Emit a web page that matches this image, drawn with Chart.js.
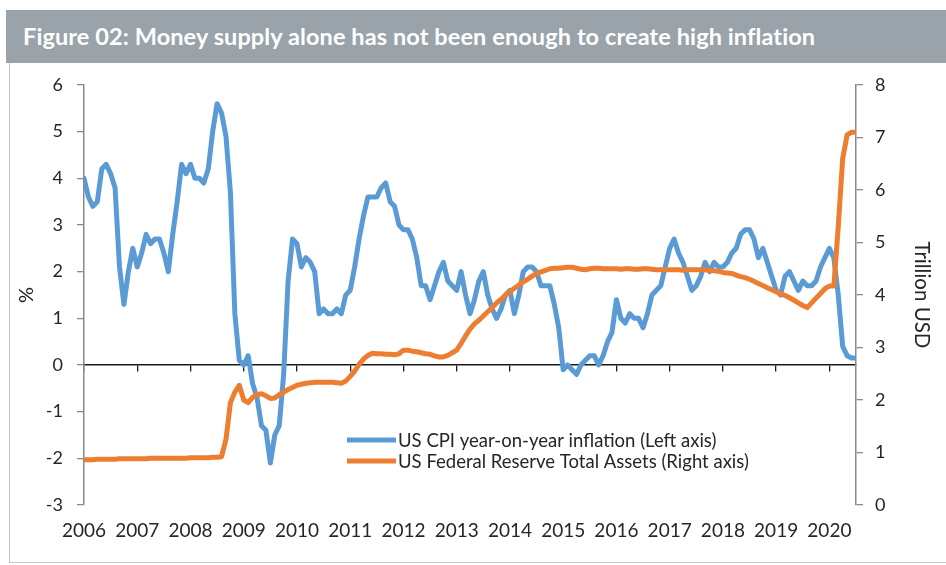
<!DOCTYPE html>
<html><head><meta charset="utf-8">
<script src="https://cdn.jsdelivr.net/npm/chart.js@4.4.1/dist/chart.umd.min.js"></script>
<style>
html,body{margin:0;padding:0;background:#fff;}
#wrap{position:relative;width:946px;height:565px;overflow:hidden;font-family:Lato,sans-serif;}
#banner{position:absolute;left:6px;top:10px;width:940px;height:53px;background:#9aa3aa;color:#fff;font-weight:bold;font-size:23.5px;line-height:53px;padding-left:17px;box-sizing:border-box;white-space:nowrap;letter-spacing:0.1px;}
#frame{position:absolute;left:9px;top:63px;width:937px;height:500px;border-left:1px solid #c4c4c4;border-bottom:1px solid #c4c4c4;box-sizing:border-box;}
#c{position:absolute;left:0;top:0;}
</style></head>
<body>
<div id="wrap">
<div id="frame"></div>
<canvas id="c" width="946" height="565"></canvas>
<div id="banner">Figure 02: Money supply alone has not been enough to create high inflation</div>
</div>
<script>
// ---- data (monthly, Jan 2006 - Jul 2020) ----
const startYear = 2006;
const years = [2006,2007,2008,2009,2010,2011,2012,2013,2014,2015,2016,2017,2018,2019,2020];
const cpiLabel = 'US CPI year-on-year inflation (Left axis)';
const fedLabel = 'US Federal Reserve Total Assets (Right axis)';
// US CPI year-on-year inflation, %
const cpiYoY = [
  4.0, 3.6, 3.4, 3.5, 4.2, 4.3, 4.1, 3.8, 2.1, 1.3, 2.0, 2.5,
  2.1, 2.4, 2.8, 2.6, 2.7, 2.7, 2.4, 2.0, 2.8, 3.5, 4.3, 4.1,
  4.3, 4.0, 4.0, 3.9, 4.2, 5.0, 5.6, 5.4, 4.9, 3.7, 1.1, 0.1,
  0.0, 0.2, -0.4, -0.7, -1.3, -1.4, -2.1, -1.5, -1.3, -0.2, 1.8, 2.7,
  2.6, 2.1, 2.3, 2.2, 2.0, 1.1, 1.2, 1.1, 1.1, 1.2, 1.1, 1.5,
  1.6, 2.1, 2.7, 3.2, 3.6, 3.6, 3.6, 3.8, 3.9, 3.5, 3.4, 3.0,
  2.9, 2.9, 2.7, 2.3, 1.7, 1.7, 1.4, 1.7, 2.0, 2.2, 1.8, 1.7,
  1.6, 2.0, 1.5, 1.1, 1.4, 1.8, 2.0, 1.5, 1.2, 1.0, 1.2, 1.5,
  1.6, 1.1, 1.5, 2.0, 2.1, 2.1, 2.0, 1.7, 1.7, 1.7, 1.3, 0.8,
  -0.1, 0.0, -0.1, -0.2, 0.0, 0.1, 0.2, 0.2, 0.0, 0.2, 0.5, 0.7,
  1.4, 1.0, 0.9, 1.1, 1.0, 1.0, 0.8, 1.1, 1.5, 1.6, 1.7, 2.1,
  2.5, 2.7, 2.4, 2.2, 1.9, 1.6, 1.7, 1.9, 2.2, 2.0, 2.2, 2.1,
  2.1, 2.2, 2.4, 2.5, 2.8, 2.9, 2.9, 2.7, 2.3, 2.5, 2.2, 1.9,
  1.6, 1.5, 1.9, 2.0, 1.8, 1.6, 1.8, 1.7, 1.7, 1.8, 2.1, 2.3,
  2.5, 2.3, 1.5, 0.4, 0.2, 0.15, 0.15
];
// US Federal Reserve total assets, trillion USD
const fedAssets = [
  0.86, 0.86, 0.86, 0.87, 0.87, 0.87, 0.87, 0.87, 0.88, 0.88, 0.88, 0.88,
  0.88, 0.88, 0.88, 0.89, 0.89, 0.89, 0.89, 0.89, 0.89, 0.89, 0.89, 0.89,
  0.90, 0.90, 0.90, 0.90, 0.90, 0.91, 0.91, 0.92, 1.25, 1.95, 2.15, 2.28,
  2.00, 1.95, 2.05, 2.10, 2.12, 2.08, 2.03, 2.04, 2.10, 2.15, 2.20, 2.24,
  2.28, 2.30, 2.32, 2.33, 2.34, 2.34, 2.34, 2.34, 2.34, 2.33, 2.32, 2.36,
  2.45, 2.55, 2.68, 2.78, 2.85, 2.89, 2.88, 2.88, 2.87, 2.87, 2.86, 2.88,
  2.95, 2.95, 2.93, 2.92, 2.90, 2.88, 2.87, 2.84, 2.82, 2.82, 2.85, 2.90,
  2.95, 3.08, 3.22, 3.35, 3.45, 3.52, 3.60, 3.68, 3.76, 3.85, 3.92, 4.00,
  4.06, 4.13, 4.19, 4.25, 4.30, 4.36, 4.41, 4.44, 4.47, 4.50, 4.51, 4.51,
  4.52, 4.53, 4.53, 4.51, 4.49, 4.48, 4.50, 4.51, 4.51, 4.50, 4.50, 4.50,
  4.50, 4.49, 4.50, 4.50, 4.49, 4.49, 4.50, 4.50, 4.49, 4.48, 4.48, 4.48,
  4.48, 4.48, 4.48, 4.47, 4.48, 4.48, 4.48, 4.48, 4.48, 4.47, 4.46, 4.45,
  4.43, 4.42, 4.41, 4.38, 4.35, 4.33, 4.30, 4.26, 4.22, 4.18, 4.14, 4.10,
  4.06, 4.03, 3.99, 3.95, 3.90, 3.85, 3.80, 3.76, 3.85, 3.94, 4.03, 4.12,
  4.17, 4.17, 5.30, 6.60, 7.05, 7.10, 7.10
];
const leftTicks = [-3,-2,-1,0,1,2,3,4,5,6];
const rightTicks = [0,1,2,3,4,5,6,7,8];

const toPoints = arr => arr.map((v, i) => ({x: startYear + i / 12, y: v}));
const lastX = startYear + (cpiYoY.length - 1) / 12;

const BLUE = '#5b9bd5', ORANGE = '#ed7d31';
const TXT = '#262626';
const FONT = 'Lato';

const legendPlugin = {
  id: 'insideLegend',
  afterDatasetsDraw(chart) {
    const ctx = chart.ctx;
    const ca = chart.chartArea;
    const items = [[BLUE, cpiLabel], [ORANGE, fedLabel]];
    const x0 = ca.left + 263, y0 = ca.top + 355, rowH = 21;
    ctx.save();
    ctx.font = '18.5px ' + FONT;
    ctx.textBaseline = 'middle';
    ctx.textAlign = 'left';
    items.forEach(([col, label], k) => {
      const y = y0 + k * rowH;
      ctx.strokeStyle = col;
      ctx.lineWidth = 5;
      ctx.lineCap = 'butt';
      ctx.beginPath(); ctx.moveTo(x0, y); ctx.lineTo(x0 + 49, y); ctx.stroke();
      ctx.fillStyle = TXT;
      ctx.fillText(label, x0 + 51, y + 1);
    });
    ctx.restore();
  }
};

new Chart(document.getElementById('c'), {
  type: 'line',
  data: {
    datasets: [
      {label: fedLabel, data: toPoints(fedAssets), yAxisID: 'y2', xAxisID: 'x',
       borderColor: ORANGE, borderWidth: 5, pointRadius: 0, tension: 0,
       borderJoinStyle: 'round', borderCapStyle: 'round', order: 0},
      {label: cpiLabel, data: toPoints(cpiYoY), yAxisID: 'y', xAxisID: 'x',
       borderColor: BLUE, borderWidth: 5, pointRadius: 0, tension: 0,
       borderJoinStyle: 'round', borderCapStyle: 'round', order: 1}
    ]
  },
  options: {
    responsive: false,
    animation: false,
    layout: {padding: {top: 85, left: 0, right: 0, bottom: 0}},
    plugins: {legend: {display: false}, tooltip: {enabled: false}, title: {display: false}},
    scales: {
      x: {
        type: 'linear', position: 'bottom', min: startYear, max: lastX,
        afterBuildTicks: s => { s.ticks = years.map(v => ({value: v})); },
        afterFit: s => { s.height = 60; },
        grid: {display: false, drawTicks: false},
        border: {display: false},
        ticks: {padding: 14, color: TXT, font: {family: FONT, size: 19}, maxRotation: 0, autoSkip: false,
                callback: v => String(v)}
      },
      x0: {
        type: 'linear', position: {y: 0}, min: startYear, max: lastX,
        afterBuildTicks: s => { s.ticks = years.map(v => ({value: v})); },
        grid: {display: true, drawOnChartArea: false, drawTicks: true, tickLength: 6, color: '#1a1a1a', lineWidth: 1.3},
        border: {display: true, color: '#1a1a1a', width: 1.5},
        ticks: {display: false}
      },
      y: {
        type: 'linear', position: 'left', min: -3, max: 6,
        afterBuildTicks: s => { s.ticks = leftTicks.map(v => ({value: v})); },
        afterFit: s => { s.width = 84; },
        grid: {drawOnChartArea: false, drawTicks: true, tickLength: 7, color: '#8a8a8a', lineWidth: 1.3},
        border: {display: true, color: '#8a8a8a', width: 1.5},
        ticks: {padding: 14, color: TXT, font: {family: FONT, size: 18}, callback: v => String(v)},
        title: {display: true, text: '%', color: TXT, font: {family: FONT, size: 20}, padding: {top: 15, bottom: 0}}
      },
      y2: {
        type: 'linear', position: 'right', min: 0, max: 8,
        afterBuildTicks: s => { s.ticks = rightTicks.map(v => ({value: v})); },
        afterFit: s => { s.width = 90; },
        grid: {drawOnChartArea: false, drawTicks: true, tickLength: 7, color: '#8a8a8a', lineWidth: 1.3},
        border: {display: true, color: '#8a8a8a', width: 1.5},
        ticks: {padding: 12, color: TXT, font: {family: FONT, size: 18}, callback: v => String(v)},
        title: {display: true, text: 'Trillion USD', color: TXT, font: {family: FONT, size: 20.5}, padding: {top: 12, bottom: 0}}
      }
    }
  },
  plugins: [legendPlugin]
});
</script>
</body></html>
